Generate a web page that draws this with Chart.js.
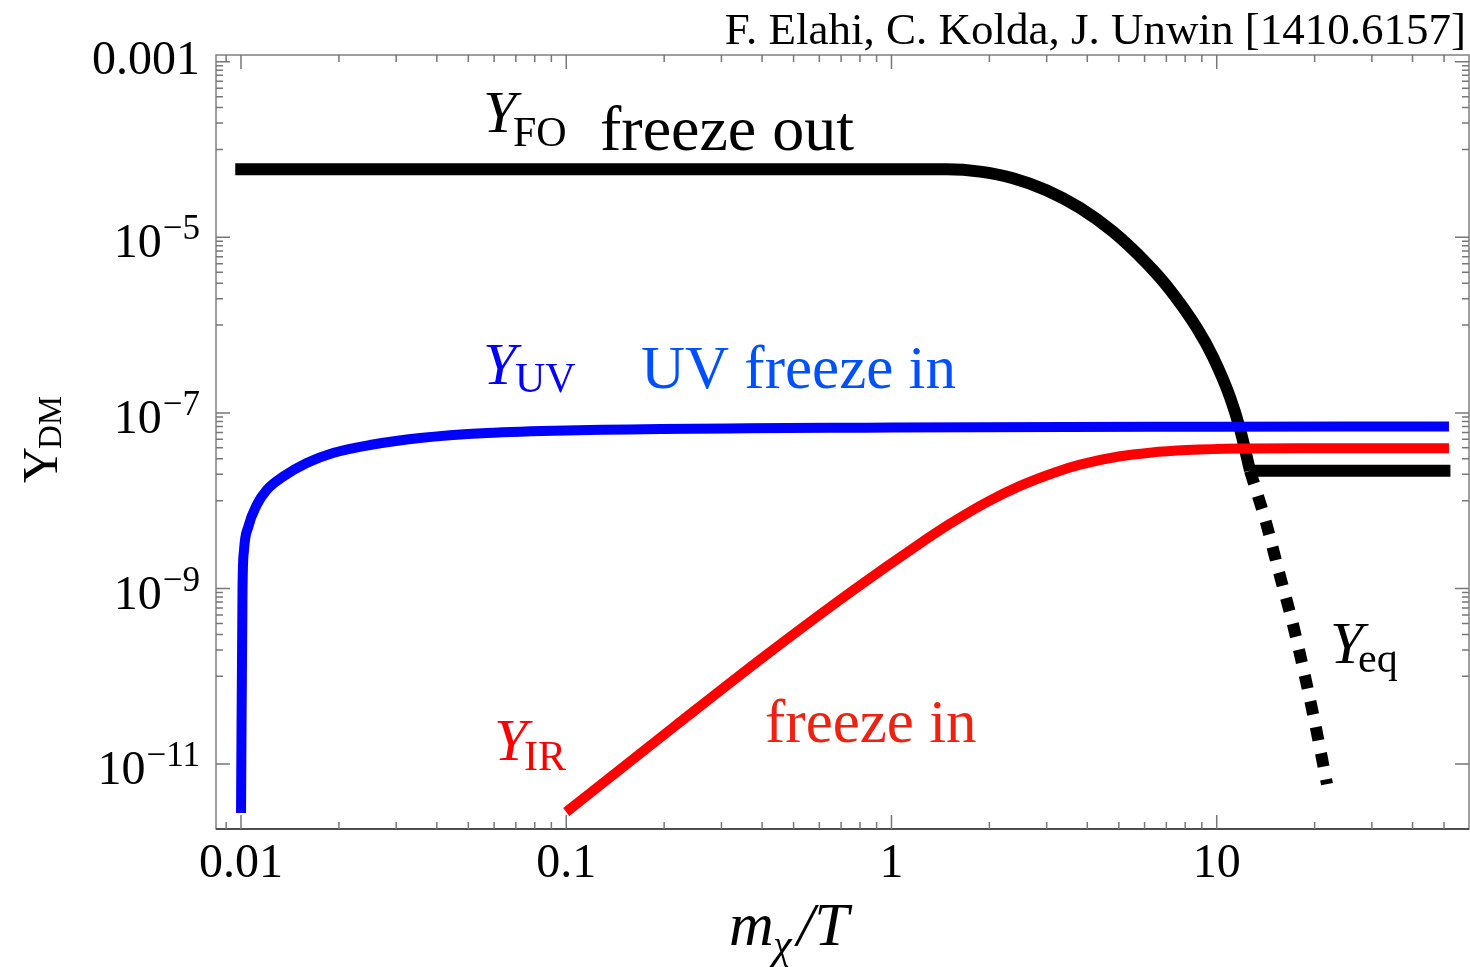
<!DOCTYPE html>
<html>
<head>
<meta charset="utf-8">
<script src="https://cdn.jsdelivr.net/npm/chart.js@4.4.0/dist/chart.umd.min.js"></script>
<style>
  html, body { margin: 0; padding: 0; background: #fff; }
  canvas { display: block; }
</style>
</head>
<body>
<canvas id="chart" width="1470" height="967"></canvas>
<script>
// values: x = m_chi/T, y = Y_DM
const foX = [0.0096, 1.4811, 1.871, 2.3637, 3.0078, 3.7983, 4.7981, 6.1043, 7.1821, 8.6967, 9.738, 10.982, 11.792, 12.656];
const foY = [5.949e-5, 5.949e-5, 5.601e-5, 4.711e-5, 3.421e-5, 2.162e-5, 1.158e-5, 5.005e-6, 2.518e-6, 9.22e-7, 4.332e-7, 1.517e-7, 6.556e-8, 2.196e-8];
const foTailX = [12.656, 52.3];
const foTailY = [2.196e-8, 2.196e-8];
const eqX = [12.656, 14.15, 15.57, 17.12, 18.59, 20.05, 21.83];
const eqY = [2.196e-8, 5.77e-9, 1.49e-9, 4.02e-10, 1.08e-10, 2.92e-11, 5.93e-12];
const uvX = [0.01, 0.010107, 0.010215, 0.01053, 0.011175, 0.011997, 0.013464, 0.015922, 0.019178, 0.024925, 0.035507, 0.05706, 0.1, 1, 10, 51.77];
const uvY = [2.774e-12, 9.87e-10, 2.745e-9, 5.057e-9, 8.934e-9, 1.3235e-8, 1.876e-8, 2.688e-8, 3.495e-8, 4.309e-8, 5.176e-8, 5.90e-8, 6.303e-8, 6.821e-8, 6.966e-8, 7.0e-8];
const irX = [0.1, 0.21428, 0.4032, 0.75873, 1.2193, 1.5124, 1.9524, 2.4843, 3.1462, 3.7983, 5.0423, 6.2341, 8.1, 11.792, 18.03, 51.77];
const irY = [2.848e-12, 2.6526e-11, 1.6508e-10, 9.44e-10, 3.2288e-9, 5.4556e-9, 9.514e-9, 1.4746e-8, 2.0732e-8, 2.5705e-8, 3.2048e-8, 3.522e-8, 3.77e-8, 3.9315e-8, 3.9625e-8, 3.9625e-8];

const xMajor = [0.01, 0.1, 1, 10];
const xTickText = ['0.01', '0.1', '1', '10'];
const yMajor = [1e-3, 1e-5, 1e-7, 1e-9, 1e-11];
const yTickBase = ['0.001', '10', '10', '10', '10'];
const yTickExp = ['', '\u22125', '\u22127', '\u22129', '\u221211'];

const SERIF = '"Liberation Serif", "Times New Roman", serif';
const pts = (xs, ys) => xs.map((x, i) => ({x: x, y: ys[i]}));

const frameTicks = {
  id: 'frameTicks',
  beforeDatasetsDraw(chart) {
    const ctx = chart.ctx, a = chart.chartArea;
    const sx = chart.scales.x, sy = chart.scales.y;
    ctx.save();
    ctx.lineWidth = 1.5;
    ctx.strokeStyle = '#808080';
    ctx.strokeRect(a.left, a.top, a.right - a.left, a.bottom - a.top);
    ctx.strokeStyle = '#333';
    ctx.beginPath(); ctx.moveTo(a.left, a.bottom); ctx.lineTo(a.right, a.bottom); ctx.stroke();

    ctx.strokeStyle = '#777';
    // x ticks, bottom and top, pointing in
    for (let k = -3; k <= 1; k++) {
      for (let m = 1; m <= 9; m++) {
        const v = m * Math.pow(10, k);
        if (v < sx.min || v > sx.max) continue;
        const px = sx.getPixelForValue(v);
        const len = m === 1 ? 14 : 7;
        ctx.beginPath();
        ctx.moveTo(px, a.bottom); ctx.lineTo(px, a.bottom - len);
        ctx.moveTo(px, a.top); ctx.lineTo(px, a.top + len);
        ctx.stroke();
      }
    }
    // y ticks, left and right
    yMajor.forEach((v, i) => {
      const py = sy.getPixelForValue(v);
      ctx.beginPath();
      ctx.moveTo(a.left, py); ctx.lineTo(a.left + 14, py);
      ctx.moveTo(a.right, py); ctx.lineTo(a.right - 14, py);
      ctx.stroke();
      if (i === yMajor.length - 1) return;
      for (let m = 1; m <= 9; m++) {
        const q = sy.getPixelForValue(m * v / 10);
        ctx.beginPath();
        ctx.moveTo(a.left, q); ctx.lineTo(a.left + 7, q);
        ctx.moveTo(a.right, q); ctx.lineTo(a.right - 7, q);
        ctx.stroke();
      }
    });
    ctx.restore();
  },
  afterDraw(chart) {
    const ctx = chart.ctx;
    const sx = chart.scales.x, sy = chart.scales.y;
    ctx.save();
    ctx.fillStyle = '#000';
    ctx.textBaseline = 'alphabetic';
    // x tick labels
    ctx.font = '48px ' + SERIF;
    ctx.textAlign = 'center';
    xMajor.forEach((v, i) => ctx.fillText(xTickText[i], sx.getPixelForValue(v), 877));
    // y tick labels
    ctx.textAlign = 'right';
    yMajor.forEach((v, i) => {
      const py = sy.getPixelForValue(v);
      if (!yTickExp[i]) {
        ctx.font = '48px ' + SERIF;
        ctx.fillText(yTickBase[i], 200, py + 12);
        return;
      }
      ctx.font = '35px ' + SERIF;
      const w = ctx.measureText(yTickExp[i]).width;
      ctx.fillText(yTickExp[i], 200, py + 2);
      ctx.font = '48px ' + SERIF;
      ctx.fillText(yTickBase[i], 199 - w, py + 20);
    });

    // axis titles
    ctx.textAlign = 'left';
    ctx.font = 'italic 62px ' + SERIF;
    ctx.fillText('m', 729, 945);
    ctx.font = 'italic 42px ' + SERIF;
    ctx.fillText('\u03c7', 773, 958);
    ctx.font = 'italic 62px ' + SERIF;
    ctx.fillText('/T', 797, 945);

    ctx.save();
    ctx.translate(57, 441);
    ctx.rotate(-Math.PI / 2);
    ctx.font = '50px ' + SERIF;
    ctx.fillText('Y', -42, 0);
    ctx.font = '33px ' + SERIF;
    ctx.fillText('DM', -8, 4);
    ctx.restore();

    // credit line
    ctx.font = '45px ' + SERIF;
    ctx.textAlign = 'right';
    ctx.fillText('F. Elahi, C. Kolda, J. Unwin [1410.6157]', 1466, 44);

    // curve labels
    ctx.textAlign = 'left';
    const notes = [
      ['Y', 'italic 60px', '#000', 483, 132], ['FO', '42px', '#000', 513, 146],
      ['freeze out', '64px', '#000', 600, 150],
      ['Y', 'italic 60px', '#0000ff', 483, 384], ['UV', '42px', '#0000ff', 515, 392],
      ['UV freeze in', '61px', '#0050ff', 641, 388],
      ['Y', 'italic 60px', '#ff0000', 494, 760], ['IR', '42px', '#ff0000', 524, 770],
      ['freeze in', '61px', '#ee2211', 765, 742],
      ['Y', 'italic 60px', '#000', 1330, 663], ['eq', '42px', '#000', 1358, 672]
    ];
    notes.forEach(n => {
      ctx.font = n[1] + ' ' + SERIF;
      ctx.fillStyle = n[2];
      ctx.fillText(n[0], n[3], n[4]);
    });
    ctx.restore();
  }
};

new Chart(document.getElementById('chart'), {
  type: 'line',
  data: {
    datasets: [
      {label: 'Y_UV', data: pts(uvX, uvY), borderColor: '#0000ff', borderWidth: 10, cubicInterpolationMode: 'monotone'},
      {label: 'Y_IR', data: pts(irX, irY), borderColor: '#ff0000', borderWidth: 10, cubicInterpolationMode: 'monotone'},
      {label: 'Y_eq', data: pts(eqX, eqY), borderColor: '#000', borderWidth: 12, borderDash: [13.5, 13], cubicInterpolationMode: 'monotone'},
      {label: 'Y_FO', data: pts(foX, foY), borderColor: '#000', borderWidth: 12, cubicInterpolationMode: 'monotone'},
      {label: 'Y_FO late', data: pts(foTailX, foTailY), borderColor: '#000', borderWidth: 12}
    ]
  },
  options: {
    responsive: false,
    animation: false,
    layout: {padding: {left: 216, top: 55, right: 1, bottom: 138}},
    elements: {point: {radius: 0}, line: {tension: 0, fill: false, borderCapStyle: 'butt', borderJoinStyle: 'round'}},
    plugins: {legend: {display: false}, tooltip: {enabled: false}},
    scales: {
      x: {type: 'logarithmic', min: 0.008377, max: 59.66, display: false},
      y: {type: 'logarithmic', min: 1.824e-12, max: 1.192e-3, display: false}
    }
  },
  plugins: [frameTicks]
});
</script>
</body>
</html>
